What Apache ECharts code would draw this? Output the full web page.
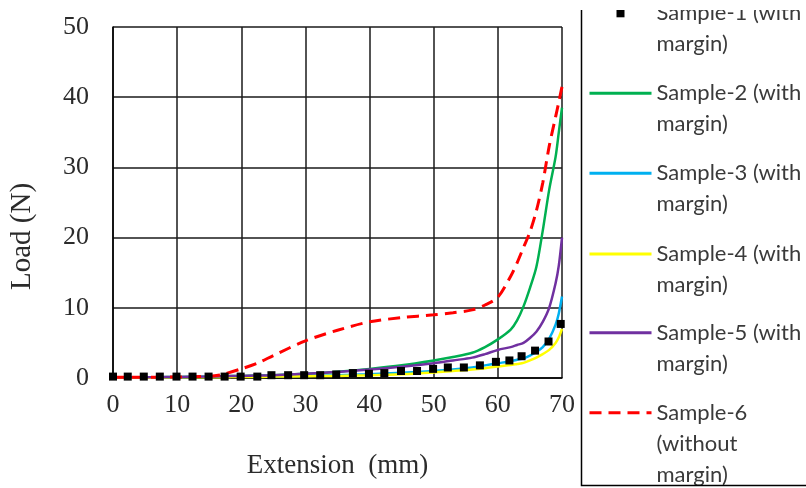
<!DOCTYPE html>
<html><head><meta charset="utf-8">
<script src="https://cdn.jsdelivr.net/npm/echarts@6/dist/echarts.min.js"></script>
<style>html,body{margin:0;padding:0;background:#fff}#c{width:806px;height:488px}</style>
</head><body><div id="c"></div>
<script>
// ---- data ----
const seriesNames = ['Sample-1 (with margin)', 'Sample-2 (with margin)', 'Sample-3 (with margin)',
  'Sample-4 (with margin)', 'Sample-5 (with margin)', 'Sample-6 (without margin)'];
const legendLabels = ['Sample-1 (with\nmargin)', 'Sample-2 (with\nmargin)', 'Sample-3 (with\nmargin)',
  'Sample-4 (with\nmargin)', 'Sample-5 (with\nmargin)', 'Sample-6\n(without\nmargin)'];
const xTicks = [0, 10, 20, 30, 40, 50, 60, 70];
const yTicks = [0, 10, 20, 30, 40, 50];

// Sample-1 (markers)
const s1Ext = [0, 2.3, 4.8, 7.3, 9.9, 12.4, 14.9, 17.4, 19.9, 22.5, 24.7, 27.3, 29.8, 32.3, 34.8, 37.4,
  39.9, 42.3, 44.9, 47.4, 49.9, 52.2, 54.7, 57.2, 59.7, 61.8, 63.7, 65.8, 67.9, 69.8];
const s1Load = [0.2, 0.2, 0.2, 0.2, 0.2, 0.2, 0.2, 0.2, 0.2, 0.2, 0.4, 0.4, 0.4, 0.4, 0.5, 0.7,
  0.6, 0.7, 1.0, 1.0, 1.3, 1.5, 1.5, 1.8, 2.3, 2.5, 3.1, 3.9, 5.2, 7.7];

// curves (shared extension grid)
const curveExt = [0, 5, 10, 15, 17, 20, 22.5, 25, 30, 35, 40, 45, 50, 53, 56, 58, 60, 62, 63, 64, 65, 66, 67, 68, 69, 69.5, 70];
const s2Load = [0.1, 0.1, 0.15, 0.2, 0.25, 0.3, 0.35, 0.4, 0.6, 0.9, 1.3, 1.8, 2.5, 3.0, 3.6, 4.4, 5.5, 6.9, 8.2, 10.2, 12.8, 15.8, 21.0, 26.8, 31.5, 35.0, 38.5];
const s3Load = [0.1, 0.1, 0.1, 0.15, 0.15, 0.2, 0.2, 0.25, 0.3, 0.4, 0.55, 0.75, 1.0, 1.2, 1.5, 1.8, 2.1, 2.4, 2.6, 2.8, 3.2, 3.7, 4.4, 5.6, 7.6, 9.2, 11.6];
const s4Load = [0.05, 0.05, 0.1, 0.1, 0.1, 0.15, 0.15, 0.2, 0.25, 0.3, 0.4, 0.55, 0.8, 1.0, 1.2, 1.4, 1.65, 1.85, 2.0, 2.15, 2.5, 2.9, 3.4, 4.0, 5.0, 5.8, 7.0];
const s5Load = [0.1, 0.1, 0.15, 0.2, 0.25, 0.3, 0.35, 0.4, 0.6, 0.85, 1.2, 1.6, 2.1, 2.5, 2.9, 3.4, 4.0, 4.4, 4.7, 5.0, 5.7, 6.6, 8.0, 10.0, 13.5, 16.0, 20.0];
const s6Load = [0.1, 0.1, 0.15, 0.25, 0.5, 1.3, 2.1, 3.2, 5.3, 6.8, 8.0, 8.6, 9.0, 9.3, 9.7, 10.4, 11.5, 14.5, 16.4, 18.6, 20.8, 23.8, 27.8, 33.0, 37.2, 39.3, 41.5];

const colors = ['#000000', '#00B050', '#00B0F0', '#FFFF00', '#7030A0', '#FF0000'];
const iconCenters = [13.3, 93.3, 173.3, 254, 332.7, 412.7];

// ---- build ----
const pairs = (xs, ys) => xs.map((x, i) => [x, ys[i]]);
const curveLoads = [null, s2Load, s3Load, s4Load, s5Load, s6Load];

const series = seriesNames.map((name, i) => {
  if (i === 0) {
    return {
      name, type: 'line', data: pairs(s1Ext, s1Load),
      symbol: 'rect', symbolSize: 8, showSymbol: true,
      itemStyle: { color: colors[0] },
      lineStyle: { width: 0, opacity: 0 },
      z: 10, silent: true, animation: false
    };
  }
  return {
    name, type: 'line', data: pairs(curveExt, curveLoads[i]),
    symbol: 'none', smooth: 0.3,
    itemStyle: { color: colors[i] },
    lineStyle: i === 5 ? { color: colors[i], width: 3, type: [12, 7] } : { color: colors[i], width: 2.5 },
    z: i === 5 ? 5 : 3, silent: true, animation: false
  };
});

const legends = seriesNames.map((name, i) => {
  const lines = legendLabels[i].split('\n').length;
  const boxH = (2 * lines - 1) * 31;
  const text = '\n'.repeat(lines - 1) + legendLabels[i];
  return {
    data: [{ name }],
    orient: 'vertical', left: 588, top: iconCenters[i] - boxH / 2, padding: 0,
    itemWidth: 62, itemHeight: 10, itemGap: 0, selectedMode: false,
    formatter: () => text,
    lineStyle: { width: 3 },
    itemStyle: { opacity: i === 0 ? 1 : 0 },
    textStyle: { fontFamily: 'Lato', fontSize: 22, color: '#3a3a3a', lineHeight: 31 }
  };
});

const tickFont = { fontFamily: 'Liberation Serif', fontSize: 26, color: '#2b2b2b' };
const chart = echarts.init(document.getElementById('c'), null, { renderer: 'canvas' });
chart.setOption({
  animation: false,
  backgroundColor: '#fff',
  grid: { left: 112, right: 244, top: 27, bottom: 110, containLabel: false },
  xAxis: {
    type: 'value', min: xTicks[0], max: xTicks[xTicks.length - 1], interval: 10,
    name: 'Extension  (mm)', nameLocation: 'middle', nameGap: 74,
    nameTextStyle: { fontFamily: 'Liberation Serif', fontSize: 27, color: '#2b2b2b' },
    axisLine: { show: true, lineStyle: { color: '#000', width: 1.5 } },
    axisTick: { show: false },
    axisLabel: Object.assign({ margin: 14 }, tickFont),
    splitLine: { show: true, lineStyle: { color: '#1a1a1a', width: 1.5 } }
  },
  yAxis: {
    type: 'value', min: yTicks[0], max: yTicks[yTicks.length - 1], interval: 10,
    name: 'Load (N)', nameLocation: 'middle', nameGap: 76, nameRotate: 90,
    nameTextStyle: { fontFamily: 'Liberation Serif', fontSize: 29, color: '#2b2b2b', padding: [0, 68, 0, 0] },
    axisLine: { show: true, lineStyle: { color: '#000', width: 1.5 } },
    axisTick: { show: false },
    axisLabel: Object.assign({ margin: 24 }, tickFont),
    splitLine: { show: true, lineStyle: { color: '#1a1a1a', width: 1.5 } }
  },
  legend: legends,
  graphic: [
    { type: 'rect', left: 579, top: -20, z: 100,
      shape: { width: 300, height: 503 },
      style: { fill: 'none', stroke: '#000', lineWidth: 1.5 } },
    { type: 'rect', left: 570, top: 0, z: 200,
      shape: { width: 236, height: 10 },
      style: { fill: '#fff' } }
  ],
  series
});
</script></body></html>
